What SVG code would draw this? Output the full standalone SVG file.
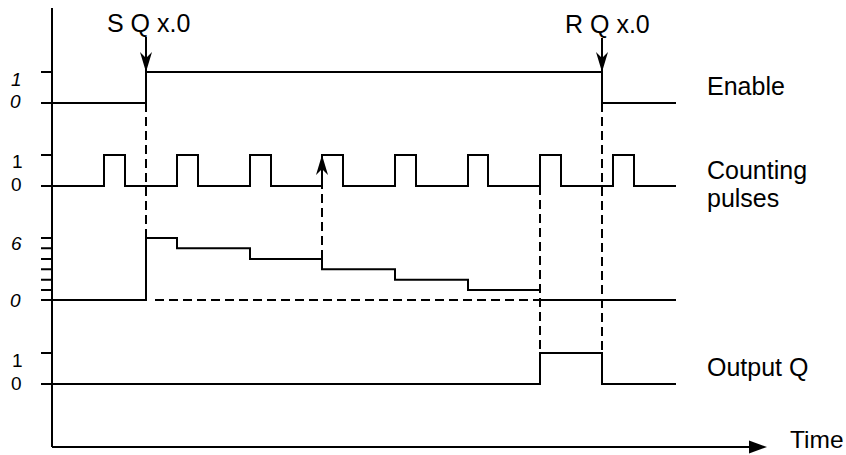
<svg xmlns="http://www.w3.org/2000/svg" width="846" height="455" viewBox="0 0 846 455">
<style>
.sig{fill:none;stroke:#000;stroke-width:2;stroke-linejoin:miter}
.dash{fill:none;stroke:#000;stroke-width:2;stroke-dasharray:9 5}
.ax{fill:none;stroke:#000;stroke-width:2}
.lbl{font-family:"Liberation Sans",Arial,sans-serif;font-size:25px;fill:#000}
.num{font-family:"Liberation Sans",Arial,sans-serif;font-size:19px;fill:#000}
.it{font-style:italic}
</style>
<defs>
<marker id="barb" markerUnits="userSpaceOnUse" markerWidth="20" markerHeight="12" viewBox="0 0 20 12" refX="20" refY="6" orient="auto">
<path d="M0,0 L20,6 L0,12 L6,6 Z" fill="#000" stroke="none"/>
</marker>
</defs>
<rect width="846" height="455" fill="#fff"/>
<g id="axes">
<line class="ax" x1="52" y1="8" x2="52" y2="447"/>
<line class="ax" x1="52" y1="447" x2="752" y2="447"/>
<polygon points="749,440.5 767,447 749,453.5" fill="#000"/>
<text class="lbl" x="790" y="448" style="font-size:24.5px">Time</text>
</g>
<g id="enable">
<line class="ax" x1="41" y1="72" x2="52" y2="72"/>
<polyline class="sig" points="41,103 146,103 146,72 602,72 602,103 676,103"/>
<text class="num it" x="11" y="86">1</text>
<text class="num it" x="10" y="108">0</text>
<text class="lbl" x="707" y="95">Enable</text>
</g>
<g id="pulses">
<line class="ax" x1="41" y1="155" x2="52" y2="155"/>
<polyline class="sig" points="41,186 104,186 104,155 125,155 125,186 177,186 177,155 198,155 198,186 250,186 250,155 271,155 271,186 322,186 322,155 343,155 343,186 395,186 395,155 416,155 416,186 468,186 468,155 488,155 488,186 540,186 540,155 561,155 561,186 613,186 613,155 634,155 634,186 676,186"/>
<text class="num" x="12" y="168">1</text>
<text class="num" x="11" y="191">0</text>
<text class="lbl" x="707" y="179">Counting</text>
<text class="lbl" x="707" y="207">pulses</text>
</g>
<g id="counter">
<path class="ax" d="M41,238H52M41,248.3H52M41,259H52M41,269.3H52M41,279.7H52M41,290H52"/>
<polyline class="sig" points="41,300 146,300 146,238 177,238 177,248.3 250,248.3 250,259 322,259 322,269.3 395,269.3 395,279.7 468,279.7 468,290 540,290"/>
<line class="ax" x1="540" y1="300" x2="676" y2="300"/>
<text class="num it" x="11" y="250">6</text>
<text class="num it" x="10" y="307">0</text>
</g>
<g id="outputQ">
<line class="ax" x1="41" y1="353" x2="52" y2="353"/>
<polyline class="sig" points="41,384 540,384 540,353 602,353 602,384 676,384"/>
<text class="num" x="12" y="367">1</text>
<text class="num" x="11" y="390">0</text>
<text class="lbl" x="707" y="376">Output Q</text>
</g>
<g id="connectors">
<line class="ax" x1="146" y1="37" x2="146" y2="72" marker-end="url(#barb)"/>
<line class="ax" x1="602" y1="38" x2="602" y2="72" marker-end="url(#barb)"/>
<line class="dash" x1="146" y1="103" x2="146" y2="238"/>
<line class="dash" x1="155" y1="300" x2="540" y2="300"/>
<line class="dash" x1="322" y1="259" x2="322" y2="186"/>
<line class="ax" x1="322" y1="186" x2="322" y2="155" marker-end="url(#barb)"/>
<line class="dash" x1="540" y1="186" x2="540" y2="353"/>
<line class="dash" x1="602" y1="103" x2="602" y2="353"/>
<text class="lbl" x="107" y="32">S Q x.0</text>
<text class="lbl" x="565" y="33">R Q x.0</text>
</g>
</svg>
